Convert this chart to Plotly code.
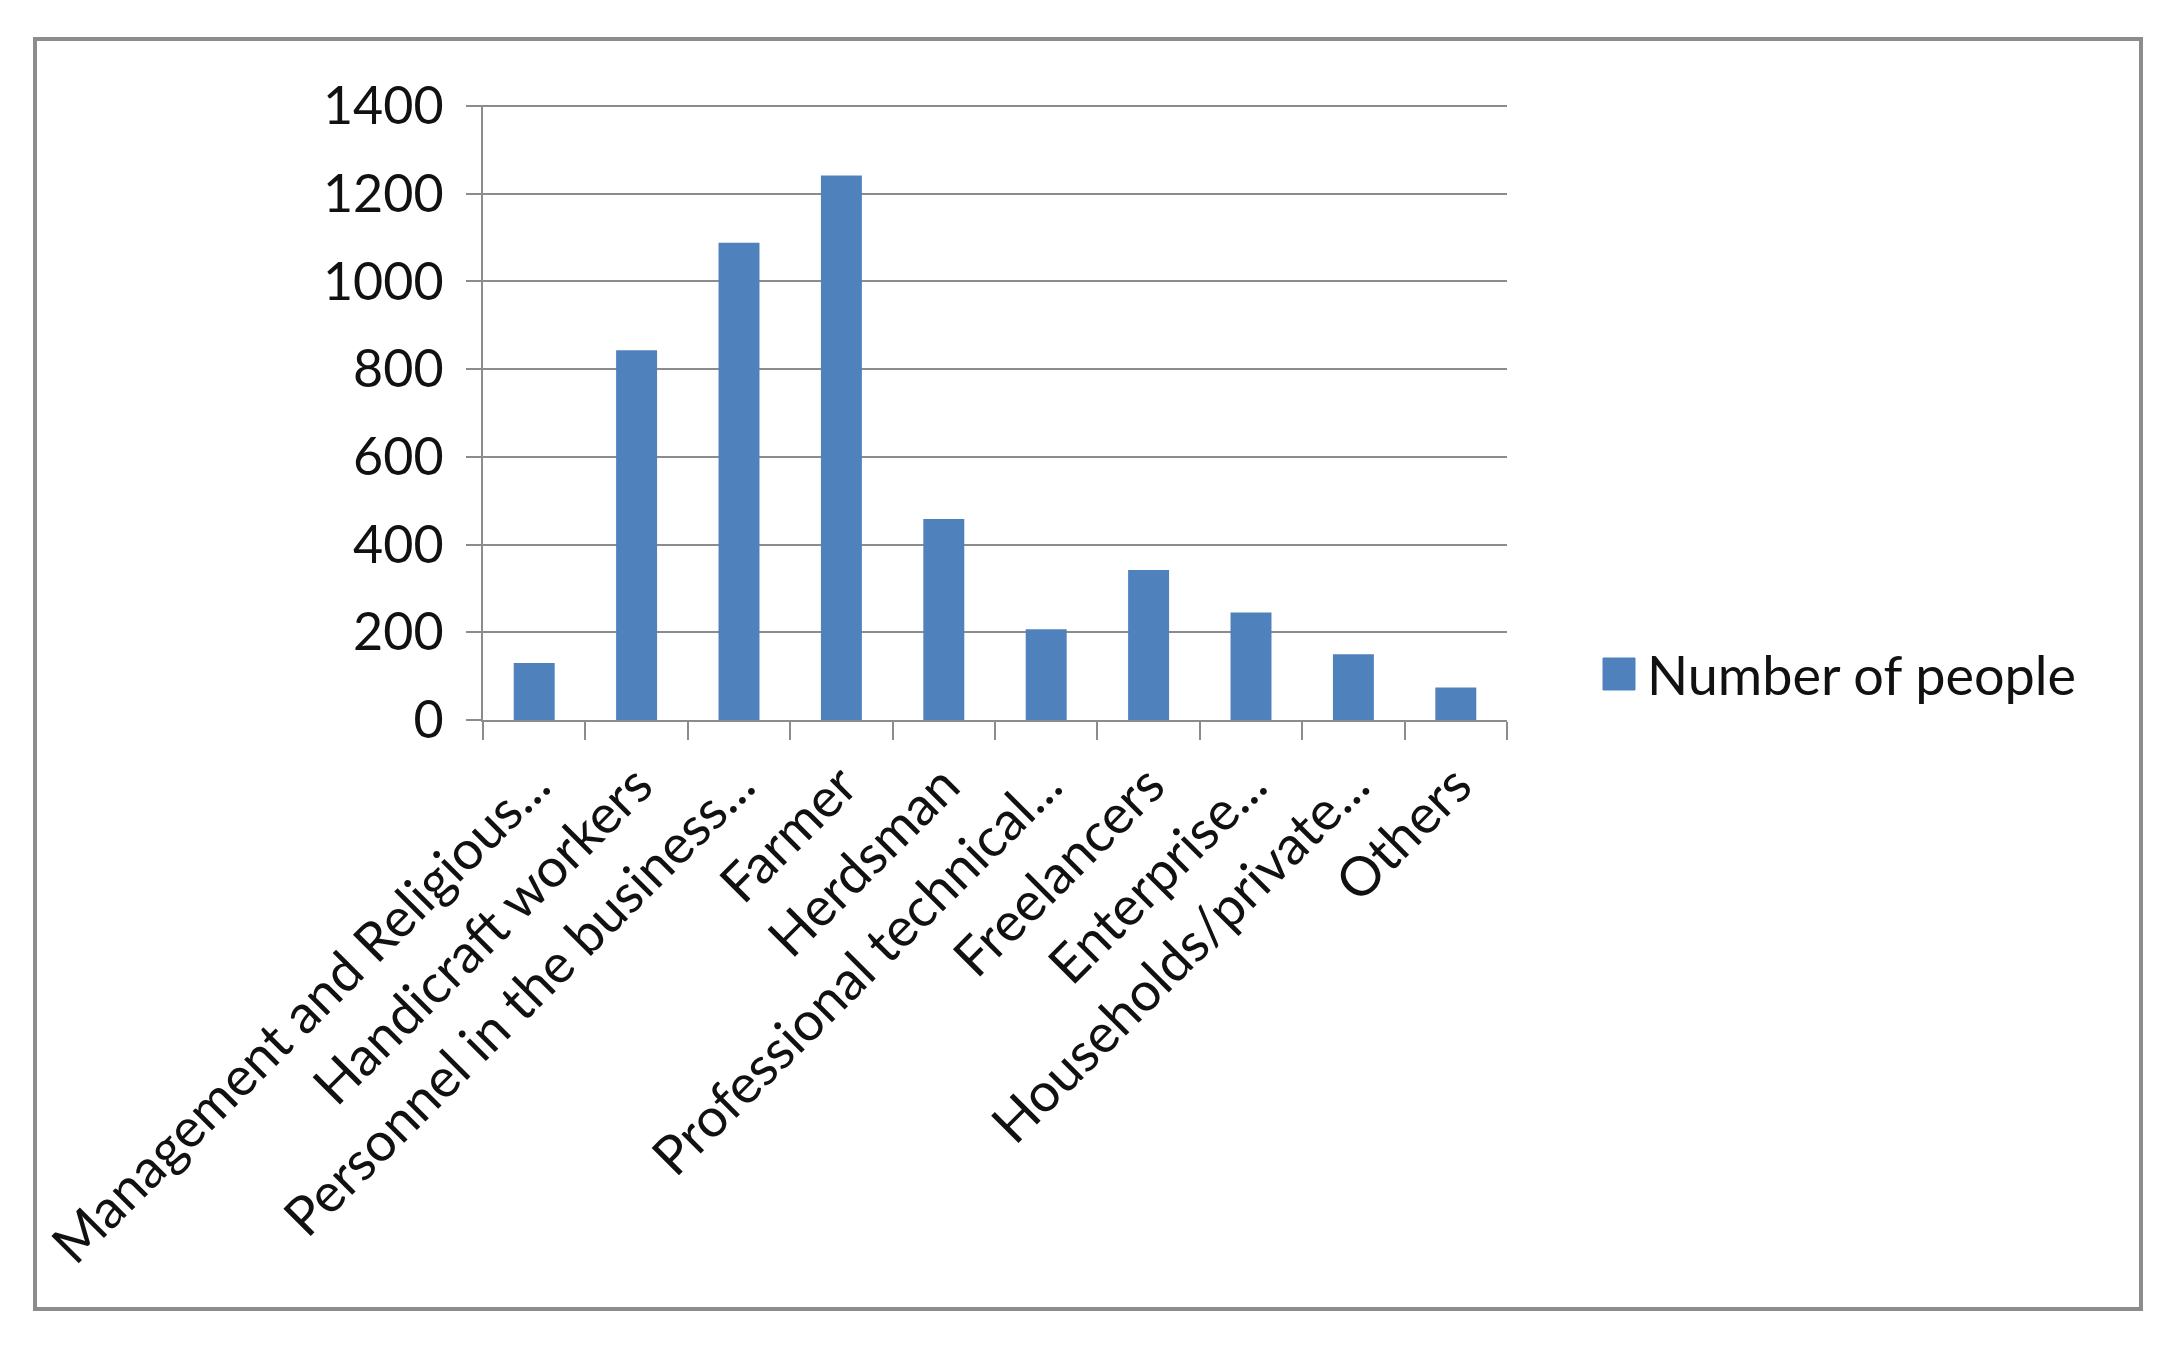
import plotly.graph_objects as go

# Occupation categories (Excel-style truncated labels) and head counts
categories = [
    "Management and Religious...",
    "Handicraft workers",
    "Personnel in the business...",
    "Farmer",
    "Herdsman",
    "Professional technical...",
    "Freelancers",
    "Enterprise...",
    "Households/private...",
    "Others",
]
people = [130, 843, 1088, 1241, 458, 207, 342, 245, 150, 74]
series_name = "Number of people"
y_ticks = [0, 200, 400, 600, 800, 1000, 1200, 1400]

# page body has an 8px margin, so work in page pixels minus 8
OFF = 8
W, H = 2176 - 2 * OFF, 1349 - 2 * OFF
L, R, T, B = 483 - OFF, 1507 - OFF, 105 - OFF, 720 - OFF
BAR_BLUE = "#4F81BD"
GRID = "#8C8C8C"
FONT = "Lato"


def px_to_paper(x, y):
    # x, y in screenshot pixels
    x, y = x - OFF, y - OFF
    return (x - L) / (R - L), (B - y) / (B - T)


fig = go.Figure()

fig.add_trace(go.Bar(
    x=categories,
    y=people,
    name=series_name,
    marker=dict(color=BAR_BLUE, line=dict(width=0)),
    showlegend=False,
))

fig.update_xaxes(
    type="category",
    showgrid=False,
    showline=True,
    linecolor=GRID,
    linewidth=2,
    ticks="outside",
    tickson="boundaries",
    ticklen=18,
    tickwidth=2,
    tickcolor=GRID,
    tickangle=-45,
    ticklabelstandoff=10,
    tickfont=dict(family=FONT, size=54, color="#111111"),
)
fig.update_yaxes(
    range=[0, 1402],
    tickvals=y_ticks,
    showgrid=True,
    gridcolor=GRID,
    gridwidth=2,
    showline=True,
    linecolor=GRID,
    linewidth=2,
    zeroline=False,
    ticks="outside",
    ticklen=15,
    tickwidth=2,
    tickcolor=GRID,
    ticklabelstandoff=12,
    tickfont=dict(family=FONT, size=52, color="#111111"),
)

# top gridline (plotly skips it at the range edge)
fig.add_shape(type="line", xref="paper", yref="y",
              x0=0, x1=1, y0=y_ticks[-1], y1=y_ticks[-1],
              line=dict(color=GRID, width=2), layer="below")

# outer chart border
bx0, by0 = px_to_paper(35, 39)
bx1, by1 = px_to_paper(2141, 1309)
fig.add_shape(type="rect", xref="paper", yref="paper",
              x0=bx0, y0=by1, x1=bx1, y1=by0,
              line=dict(color="#8C8C8C", width=4), layer="below")

# legend drawn by hand (plotly caps bar legend swatch size)
sx0, sy0 = px_to_paper(1603, 658)
sx1, sy1 = px_to_paper(1635, 690)
fig.add_shape(type="rect", xref="paper", yref="paper",
              x0=sx0, y0=sy1, x1=sx1, y1=sy0,
              fillcolor=BAR_BLUE, line=dict(color=BAR_BLUE, width=1))
tx, ty = px_to_paper(1645, 674)
fig.add_annotation(xref="paper", yref="paper", x=tx, y=ty,
                   xanchor="left", yanchor="middle", showarrow=False,
                   text=series_name,
                   font=dict(family=FONT, size=54, color="#111111"))

fig.update_layout(
    width=W,
    height=H,
    bargap=0.6,
    plot_bgcolor="white",
    paper_bgcolor="white",
    margin=dict(l=L, r=W - R, t=T, b=H - B, autoexpand=False),
    showlegend=False,
)

fig.write_html("out.html")
